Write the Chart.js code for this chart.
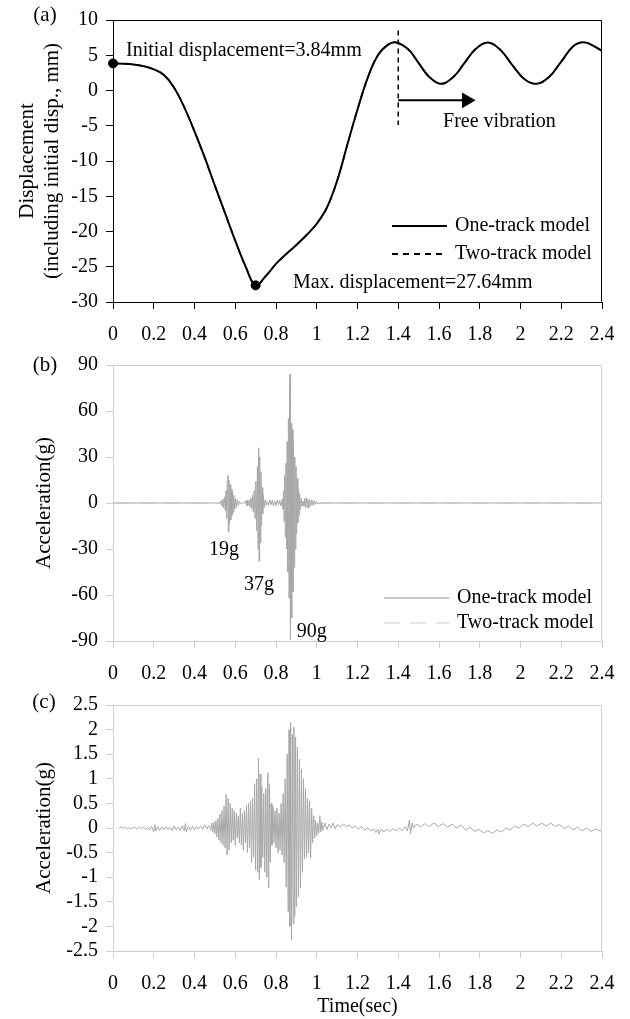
<!DOCTYPE html>
<html>
<head>
<meta charset="utf-8">
<script src="https://cdn.jsdelivr.net/npm/chart.js@4.4.1/dist/chart.umd.min.js"></script>
<style>
  body { margin: 0; background: #fff; width: 630px; height: 1019px; position: relative; overflow: hidden; }
  canvas { position: absolute; left: 0; }
</style>
</head>
<body>
<canvas id="chartA" width="630" height="345" style="top:0px"></canvas>
<canvas id="chartB" width="630" height="340" style="top:345px"></canvas>
<canvas id="chartC" width="630" height="334" style="top:685px"></canvas>
<script>
// tick values
const timeTicks = [0, 0.2, 0.4, 0.6, 0.8, 1, 1.2, 1.4, 1.6, 1.8, 2, 2.2, 2.4];
const dispTicks = [-30, -25, -20, -15, -10, -5, 0, 5, 10];
const accelTicksB = [-90, -60, -30, 0, 30, 60, 90];
const accelTicksC = [-2.5, -2, -1.5, -1, -0.5, 0, 0.5, 1, 1.5, 2, 2.5];

// (a) displacement (mm) vs time (sec)
const dispTime = [0, 0.05, 0.1, 0.15, 0.2, 0.25, 0.3, 0.35, 0.4, 0.45, 0.5, 0.55, 0.6, 0.65, 0.7, 0.75, 0.8, 0.85, 0.9, 0.95,
  1.0, 1.05, 1.1, 1.15, 1.2, 1.25, 1.3, 1.35, 1.39, 1.45, 1.5, 1.55, 1.61, 1.67, 1.72, 1.78, 1.84, 1.9, 1.96,
  2.02, 2.08, 2.14, 2.2, 2.26, 2.31, 2.36, 2.4];
const dispOneTrack = [3.84, 3.8, 3.7, 3.45, 3.0, 2.2, 0.4, -2.4, -5.8, -9.5, -13.5, -17.4, -21.3, -24.9, -27.64, -26.3, -24.6, -23.2, -21.9, -20.5,
  -18.9, -16.6, -12.8, -7.7, -2.7, 1.8, 5.0, 6.5, 6.8, 5.8, 3.9, 2.0, 0.95, 1.9, 3.7, 5.9, 6.8, 5.8, 3.6,
  1.6, 0.95, 1.9, 4.1, 6.3, 6.85, 6.3, 5.6];
const dispTwoTrack = dispOneTrack;
const markerTime = [0, 0.7];
const markerDisp = [3.84, -27.64];
const freeLineTime = [1.4, 1.4];
const freeLineDisp = [8.5, -4.9];
const arrowTime = [1.4, 1.735];
const arrowDisp = [-1.4, -1.4];

// (b) car acceleration (g) [time, value]
const accelB = [
  [0, 0], [0.527, 0], [0.531, 1.5], [0.535, -2], [0.539, 2.5], [0.543, -3], [0.547, 4], [0.551, -5], [0.555, 8],
  [0.558, -10], [0.561, 14], [0.564, 18], [0.566, -19], [0.569, 15], [0.572, -14], [0.575, 12], [0.578, -11],
  [0.581, 9], [0.584, -8], [0.587, 7], [0.590, -6], [0.593, 5], [0.597, -4], [0.601, 3], [0.605, -3], [0.610, 2],
  [0.615, -1.5], [0.620, 1], [0.625, -0.5], [0.630, 0], [0.649, 0], [0.653, 1.5], [0.657, -2], [0.661, 2],
  [0.665, -1.5], [0.669, 2], [0.673, -2.5], [0.677, 3], [0.681, -4], [0.685, 5], [0.689, -6], [0.693, 8],
  [0.697, -10], [0.701, 14], [0.705, -18], [0.709, 24], [0.712, -30], [0.715, 36], [0.717, -38], [0.720, 30],
  [0.723, -26], [0.726, 20], [0.729, -15], [0.732, 10], [0.735, -7], [0.738, 5], [0.742, -3], [0.747, 2],
  [0.752, -1.5], [0.758, 1], [0.764, -1.5], [0.770, 2], [0.776, -1], [0.782, 1.5], [0.788, -2], [0.794, 1],
  [0.800, -1.5], [0.806, 2], [0.812, -1], [0.818, 1.5], [0.824, -2], [0.830, 2.5], [0.834, -4], [0.837, 8],
  [0.840, -12], [0.843, 18], [0.846, -22], [0.849, 26], [0.852, -30], [0.855, 40], [0.858, -45], [0.861, 55],
  [0.864, -62], [0.867, 72], [0.869, 84], [0.871, -89], [0.874, 52], [0.877, -75], [0.880, 48], [0.883, -58],
  [0.886, 40], [0.889, -42], [0.892, 30], [0.895, -30], [0.898, 24], [0.901, -20], [0.904, 16], [0.907, -13],
  [0.910, 10], [0.913, -8], [0.916, 6], [0.920, -4], [0.924, 3], [0.928, -2], [0.933, 1], [0.937, -2],
  [0.941, 3], [0.945, -3], [0.949, 3.5], [0.953, -3], [0.957, 2.5], [0.961, -3], [0.965, 2], [0.970, -2],
  [0.975, 2], [0.980, -1.5], [0.986, 1.5], [0.992, -1], [0.998, 1], [1.005, -0.5], [1.015, 0], [2.4, 0]
];

// (c) acceleration (g) [time, value]
const accelC = [
  [0.03, 0], [0.04, 0.02], [0.05, -0.01], [0.06, 0.02], [0.07, -0.02], [0.08, 0.01], [0.09, -0.02], [0.10, 0.02],
  [0.11, 0.0], [0.12, -0.02], [0.13, 0.02], [0.14, -0.01], [0.15, 0.01], [0.16, -0.03], [0.17, 0.01], [0.18, -0.04],
  [0.19, 0.03], [0.20, -0.08], [0.205, 0.07], [0.21, -0.06], [0.22, 0.03], [0.23, -0.05], [0.24, 0.02], [0.25, -0.04],
  [0.26, 0.03], [0.27, -0.03], [0.28, 0.01], [0.29, -0.05], [0.30, 0.04], [0.31, -0.04], [0.32, 0.02], [0.33, -0.05],
  [0.34, 0.05], [0.35, -0.06], [0.355, 0.09], [0.36, -0.08], [0.37, 0.04], [0.38, -0.05], [0.39, 0.03], [0.40, -0.04],
  [0.41, 0.03], [0.42, -0.02], [0.43, 0.04], [0.44, -0.03], [0.45, 0.06], [0.46, -0.02], [0.47, 0.05], [0.48, -0.04],
  [0.485, 0.1], [0.49, -0.08], [0.495, 0.12], [0.50, -0.12], [0.505, 0.15], [0.51, -0.18], [0.515, 0.2], [0.52, -0.25],
  [0.525, 0.28], [0.53, -0.3], [0.535, 0.35], [0.54, -0.35], [0.545, 0.45], [0.55, -0.4], [0.555, 0.68], [0.56, -0.55],
  [0.565, 0.6], [0.57, -0.45], [0.575, 0.5], [0.58, -0.3], [0.585, 0.4], [0.59, -0.25], [0.595, 0.35], [0.60, -0.35],
  [0.605, 0.3], [0.61, -0.2], [0.615, 0.25], [0.62, -0.3], [0.625, 0.4], [0.63, -0.35], [0.635, 0.3], [0.64, -0.45],
  [0.645, 0.35], [0.65, -0.3], [0.655, 0.45], [0.66, -0.5], [0.665, 0.5], [0.67, -0.4], [0.675, 0.55], [0.68, -0.7],
  [0.685, 0.6], [0.69, -0.6], [0.695, 0.9], [0.70, -0.85], [0.705, 1.0], [0.71, -0.9], [0.714, 1.42], [0.718, -1.05],
  [0.722, 1.1], [0.726, -0.8], [0.73, 0.85], [0.735, -0.6], [0.74, 0.7], [0.745, -0.9], [0.75, 0.8], [0.755, -1.0],
  [0.76, 1.12], [0.764, -1.22], [0.768, 0.9], [0.772, -0.7], [0.776, 0.5], [0.78, -0.35], [0.785, 0.45], [0.79, -0.3],
  [0.795, 0.35], [0.80, -0.4], [0.805, 0.4], [0.81, -0.5], [0.815, 0.3], [0.82, -0.45], [0.825, 0.5], [0.83, -0.55],
  [0.835, 0.7], [0.84, -0.7], [0.845, 1.0], [0.85, -1.2], [0.855, 1.5], [0.86, -1.7], [0.864, 2.0], [0.868, -2.0],
  [0.872, 2.15], [0.876, -2.28], [0.88, 1.9], [0.884, -1.95], [0.888, 2.05], [0.892, -1.8], [0.896, 1.85], [0.90, -1.6],
  [0.905, 1.64], [0.91, -1.4], [0.915, 1.4], [0.92, -1.22], [0.925, 1.2], [0.93, -0.9], [0.935, 1.0], [0.94, -0.63],
  [0.945, 0.8], [0.95, -0.6], [0.955, 0.6], [0.96, -0.5], [0.965, 0.55], [0.97, -0.6], [0.975, 0.4], [0.98, -0.3],
  [0.985, 0.25], [0.99, -0.2], [0.995, 0.15], [1.00, -0.15], [1.005, 0.1], [1.01, -0.1], [1.015, 0.25], [1.02, -0.08],
  [1.025, 0.12], [1.03, -0.05], [1.04, 0.1], [1.05, -0.03], [1.06, 0.08], [1.07, 0.0], [1.08, 0.1], [1.09, -0.02],
  [1.10, 0.07], [1.115, 0.02], [1.13, 0.08], [1.145, 0.03], [1.16, 0.06], [1.175, 0.0], [1.19, 0.04], [1.205, -0.02],
  [1.22, 0.03], [1.235, -0.04], [1.25, 0.0], [1.265, -0.06], [1.28, -0.02], [1.29, -0.09], [1.30, -0.02], [1.305, -0.12],
  [1.315, -0.03], [1.33, -0.08], [1.345, -0.02], [1.36, -0.07], [1.375, -0.01], [1.39, -0.06], [1.405, 0.0], [1.42, -0.05],
  [1.435, 0.03], [1.445, -0.06], [1.455, 0.16], [1.46, -0.12], [1.468, 0.1], [1.475, 0.0], [1.49, 0.08], [1.51, 0.02],
  [1.53, 0.09], [1.55, 0.03], [1.575, 0.1], [1.597, 0.03], [1.62, 0.09], [1.642, 0.02], [1.664, 0.08], [1.686, 0.0],
  [1.708, 0.06], [1.73, -0.04], [1.752, 0.02], [1.774, -0.07], [1.796, -0.03], [1.818, -0.1], [1.84, -0.05], [1.862, -0.11],
  [1.884, -0.04], [1.906, -0.08], [1.928, 0.0], [1.95, -0.04], [1.972, 0.04], [1.994, 0.0], [2.016, 0.08], [2.038, 0.03],
  [2.06, 0.1], [2.082, 0.04], [2.104, 0.1], [2.126, 0.04], [2.148, 0.1], [2.17, 0.03], [2.192, 0.07], [2.214, -0.01],
  [2.236, 0.04], [2.258, -0.04], [2.28, 0.02], [2.302, -0.06], [2.324, 0.0], [2.346, -0.07], [2.368, -0.02], [2.39, -0.06],
  [2.40, -0.04]
];

const SERIF = '"Liberation Serif", "Times New Roman", serif';
Chart.defaults.font.family = SERIF;
Chart.defaults.font.size = 20;
Chart.defaults.color = '#000';
Chart.defaults.animation = false;

const toXY = (xs, ys) => xs.map((x, i) => ({ x: x, y: ys[i] }));
const pairsXY = pairs => pairs.map(p => ({ x: p[0], y: p[1] }));
const fmt = v => String(parseFloat(v.toFixed(2)));

function xAxis(color, height, title) {
  return {
    type: 'linear', min: 0, max: 2.4,
    afterBuildTicks: s => { s.ticks = timeTicks.map(v => ({ value: v })); },
    afterFit: s => { s.height = height; },
    ticks: { callback: v => fmt(v), padding: 14, autoSkip: false, maxRotation: 0 },
    grid: { drawOnChartArea: false, drawTicks: true, tickLength: 7, color: color },
    border: { color: color },
    title: title ? { display: true, text: title, padding: { top: 0, bottom: 0 } } : { display: false }
  };
}

function yAxis(ticks, color, width, title, titleSize) {
  return {
    type: 'linear', min: ticks[0], max: ticks[ticks.length - 1],
    afterBuildTicks: s => { s.ticks = ticks.map(v => ({ value: v })); },
    afterFit: s => { s.width = width; },
    ticks: { callback: v => fmt(v), padding: 8, autoSkip: false },
    grid: { drawOnChartArea: false, drawTicks: true, tickLength: 7, color: color },
    border: { color: color },
    title: { display: true, text: title, font: { size: titleSize }, padding: { top: 4, bottom: 4 } }
  };
}

// top and right edge of the plot box
const framePlugin = {
  id: 'frame',
  afterDraw(chart, args, opts) {
    const { ctx, chartArea: a } = chart;
    const l = Math.round(a.left) + 0.5, r = Math.round(a.right) - 0.5;
    const t = Math.round(a.top) + 0.5, b = Math.round(a.bottom) - 0.5;
    ctx.save();
    ctx.strokeStyle = opts.color;
    ctx.lineWidth = 1;
    ctx.beginPath();
    ctx.moveTo(l, t); ctx.lineTo(r, t); ctx.lineTo(r, b);
    ctx.stroke();
    ctx.restore();
  }
};

function panelLabel(ctx, text, x, y) {
  ctx.save();
  ctx.font = '21px ' + SERIF;
  ctx.fillStyle = '#000';
  ctx.textAlign = 'center';
  ctx.textBaseline = 'middle';
  ctx.fillText(text, x, y);
  ctx.restore();
}

function legendRow(ctx, x0, x1, y, color, dash, width, text) {
  ctx.save();
  ctx.strokeStyle = color;
  ctx.lineWidth = width;
  ctx.setLineDash(dash);
  ctx.beginPath();
  ctx.moveTo(x0, y); ctx.lineTo(x1, y);
  ctx.stroke();
  ctx.setLineDash([]);
  ctx.fillStyle = '#000';
  ctx.font = '20px ' + SERIF;
  ctx.textAlign = 'left';
  ctx.textBaseline = 'middle';
  ctx.fillText(text, x1 + 8, y);
  ctx.restore();
}

const notesA = {
  id: 'notesA',
  afterDraw(chart) {
    const { ctx, scales: { x, y } } = chart;
    ctx.save();
    ctx.font = '20px ' + SERIF;
    ctx.fillStyle = '#000';
    ctx.textAlign = 'left';
    ctx.textBaseline = 'middle';
    ctx.fillText('Initial displacement=3.84mm', x.getPixelForValue(0.064), y.getPixelForValue(5.6));
    ctx.fillText('Max. displacement=27.64mm', x.getPixelForValue(0.883), y.getPixelForValue(-27.2));
    ctx.fillText('Free vibration', x.getPixelForValue(1.62), y.getPixelForValue(-4.4));
    ctx.restore();
    legendRow(ctx, 392, 447, 226, '#000', [], 2, 'One-track model');
    legendRow(ctx, 392, 447, 254, '#000', [6, 5], 2, 'Two-track model');
    panelLabel(ctx, '(a)', 45, 15);
  }
};

const notesB = {
  id: 'notesB',
  afterDraw(chart) {
    const { ctx, scales: { x, y } } = chart;
    ctx.save();
    ctx.font = '20px ' + SERIF;
    ctx.fillStyle = '#000';
    ctx.textAlign = 'center';
    ctx.textBaseline = 'middle';
    ctx.fillText('19g', x.getPixelForValue(0.545), y.getPixelForValue(-30.7));
    ctx.fillText('37g', x.getPixelForValue(0.716), y.getPixelForValue(-53));
    ctx.fillText('90g', x.getPixelForValue(0.975), y.getPixelForValue(-84));
    ctx.restore();
    legendRow(ctx, 384, 449, 253, '#b4b4b4', [], 1.5, 'One-track model');
    legendRow(ctx, 384, 449, 278, '#dcdcdc', [16, 10], 1.5, 'Two-track model');
    panelLabel(ctx, '(b)', 45, 20);
  }
};

const notesC = {
  id: 'notesC',
  afterDraw(chart) {
    panelLabel(chart.ctx, '(c)', 44, 17);
  }
};

const basePlugins = { legend: { display: false }, tooltip: { enabled: false } };

// (a)
new Chart(document.getElementById('chartA'), {
  type: 'line',
  data: {
    datasets: [
      { label: 'Max/initial', data: toXY(markerTime, markerDisp), showLine: false, pointRadius: 4.5, clip: false,
        pointBackgroundColor: '#000', pointBorderColor: '#000' },
      { label: 'Arrow', data: toXY(arrowTime, arrowDisp), borderColor: '#000', borderWidth: 2,
        pointRadius: [0, 7], pointStyle: 'triangle', pointRotation: 90, pointBackgroundColor: '#000', pointBorderColor: '#000' },
      { label: 'Free vibration start', data: toXY(freeLineTime, freeLineDisp), borderColor: '#000', borderWidth: 1.5,
        borderDash: [5, 4], pointRadius: 0 },
      { label: 'One-track model', data: toXY(dispTime, dispOneTrack), borderColor: '#000', borderWidth: 2,
        pointRadius: 0, tension: 0.4 },
      { label: 'Two-track model', data: toXY(dispTime, dispTwoTrack), borderColor: '#000', borderWidth: 1.5,
        borderDash: [6, 5], pointRadius: 0, tension: 0.4 }
    ]
  },
  options: {
    responsive: false,
    layout: { padding: { left: 11, top: 16, right: 28, bottom: 0 } },
    scales: {
      x: xAxis('#000', 43),
      y: yAxis(dispTicks, '#000', 102, ['Displacement', '(including initial disp., mm)'], 21)
    },
    plugins: Object.assign({ frame: { color: '#000' } }, basePlugins)
  },
  plugins: [framePlugin, notesA]
});

// (b)
new Chart(document.getElementById('chartB'), {
  type: 'line',
  data: {
    datasets: [
      { label: 'One-track model', data: pairsXY(accelB), borderColor: '#a8a8a8', borderWidth: 1, pointRadius: 0 },
      { label: 'Two-track model', data: pairsXY(accelB), borderColor: '#dcdcdc', borderWidth: 1,
        borderDash: [16, 10], pointRadius: 0 }
    ]
  },
  options: {
    responsive: false,
    layout: { padding: { left: 28, top: 15, right: 28, bottom: 0 } },
    scales: {
      x: xAxis('#cfcfcf', 44),
      y: yAxis(accelTicksB, '#cfcfcf', 85, 'Acceleration(g)', 21)
    },
    plugins: Object.assign({ frame: { color: '#cfcfcf' } }, basePlugins)
  },
  plugins: [framePlugin, notesB]
});

// (c)
new Chart(document.getElementById('chartC'), {
  type: 'line',
  data: {
    datasets: [
      { label: 'Acceleration', data: pairsXY(accelC), borderColor: '#a8a8a8', borderWidth: 1, pointRadius: 0 }
    ]
  },
  options: {
    responsive: false,
    layout: { padding: { left: 28, top: 16, right: 28, bottom: 0 } },
    scales: {
      x: xAxis('#cfcfcf', 68, 'Time(sec)'),
      y: yAxis(accelTicksC, '#cfcfcf', 85, 'Acceleration(g)', 21)
    },
    plugins: Object.assign({ frame: { color: '#cfcfcf' } }, basePlugins)
  },
  plugins: [framePlugin, notesC]
});
</script>
</body>
</html>
